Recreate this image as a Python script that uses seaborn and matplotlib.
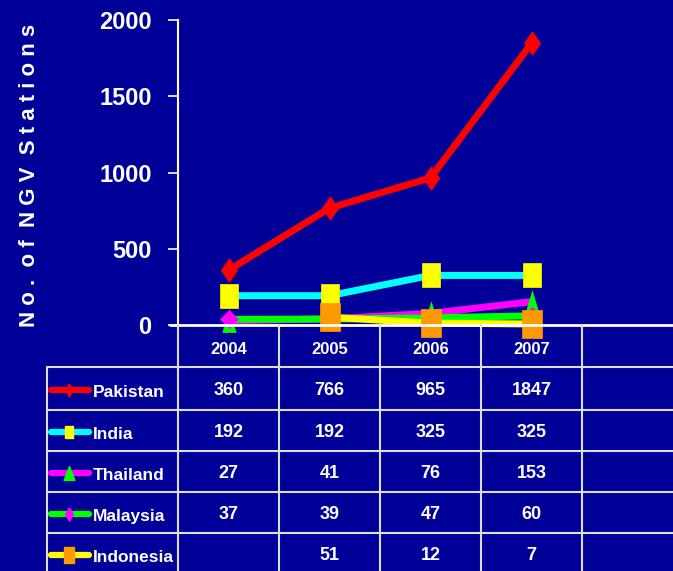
import numpy as np
import pandas as pd
import matplotlib
matplotlib.use("Agg")
import matplotlib.pyplot as plt
import matplotlib.transforms as mtransforms
from matplotlib.lines import Line2D
import seaborn as sns

years = ["2004", "2005", "2006", "2007"]
countries = ["Pakistan", "India", "Thailand", "Malaysia", "Indonesia"]
pakistan = [360, 766, 965, 1847]
india = [192, 192, 325, 325]
thailand = [27, 41, 76, 153]
malaysia = [37, 39, 47, 60]
indonesia = [np.nan, 51, 12, 7]
y_ticks = [0, 500, 1000, 1500, 2000]

bg = "#000099"
line_colors = ["#ff0000", "#00ffff", "#ff00ff", "#00ff00", "#ffff00"]
marker_colors = ["#ff0000", "#ffff00", "#00ff00", "#ff00ff", "#ff9900"]


def diamond(w):
    return [(0, 1), (w, 0), (0, -1), (-w, 0), (0, 1)]


def rect(w):
    return [(-w, -1), (w, -1), (w, 1), (-w, 1), (-w, -1)]


def tri(w):
    return [(0, 1), (w, -1), (-w, -1), (0, 1)]


# tall shapes like the original office chart markers
markers = [diamond(0.7), rect(0.74), tri(0.6), diamond(1.0), rect(0.7)]
msizes = [17, 17, 16, 13, 20]
leg_markers = [diamond(0.45), rect(0.66), tri(0.78), diamond(0.6), rect(0.65)]
leg_sizes = [9.5, 9, 10, 9.5, 12]

sns.set_style("dark", {"axes.facecolor": bg, "figure.facecolor": bg})
plt.rcParams["font.family"] = ["Liberation Sans", "DejaVu Sans"]
plt.rcParams["font.weight"] = "bold"

W, H = 673, 571
fig = plt.figure(figsize=(W / 100, H / 100), dpi=100)
fig.patch.set_facecolor(bg)


def fx(px):
    return px / W


def fy(py):
    return 1 - py / H


# plot area: categories 101 px wide starting at x=178, y 0->325 px, 2000->20 px
ax_left, ax_right, ax_top, ax_bot = 178, 673, 20, 325
ax = fig.add_axes([fx(ax_left), fy(ax_bot), fx(ax_right - ax_left), (ax_bot - ax_top) / H])
ax.set_facecolor(bg)
ax.set_xlim(-0.5, -0.5 + (ax_right - ax_left) / 101)
ax.set_ylim(0, 2000)

series = [pakistan, india, thailand, malaysia, indonesia]
data = pd.DataFrame({"year_idx": np.arange(len(years))})
for name, vals in zip(countries, series):
    data[name] = vals

for i, name in enumerate(countries):
    sns.lineplot(data=data, x="year_idx", y=name, ax=ax, color=line_colors[i],
                 linewidth=5, marker=markers[i], markersize=msizes[i],
                 markerfacecolor=marker_colors[i], markeredgecolor=marker_colors[i],
                 markeredgewidth=0.5, clip_on=False, zorder=3 + i)

ax.set_xlabel("")
ax.set_ylabel("")
ax.set_xticks([])
ax.set_yticks(y_ticks)
ax.set_yticklabels([str(t) for t in y_ticks], color="white", fontsize=17, fontweight="bold")
ax.tick_params(axis="y", colors="white", length=7, width=1.2, pad=12, direction="out", left=True)
ax.grid(False)
for s in ["top", "right", "bottom"]:
    ax.spines[s].set_visible(False)
ax.spines["left"].set_color("white")
ax.spines["left"].set_linewidth(1.5)

fig.text(fx(30), fy(175), "N o .  o f  N G V  S t a t i o n s", rotation=90, color="white",
         fontsize=16, fontweight="bold", ha="center", va="center")

# data table below the plot
lc = "#dddddd"
col_edges = [178, 279, 380, 481, 582, 683]
row_edges = [367, 410, 451, 492, 533, 574]
fig.add_artist(Line2D([fx(170), fx(673)], [fy(325), fy(325)], color="white", lw=2))
for cx in col_edges[:5]:
    fig.add_artist(Line2D([fx(cx), fx(cx)], [fy(325), fy(574)], color=lc, lw=1.5))
fig.add_artist(Line2D([fx(47), fx(47)], [fy(367), fy(574)], color=lc, lw=1.5))
for ry in row_edges[:5]:
    fig.add_artist(Line2D([fx(47), fx(673)], [fy(ry), fy(ry)], color=lc, lw=1.5))

trans = mtransforms.blended_transform_factory(ax.transData, fig.transFigure)
for j, yr in enumerate(years):
    fig.text(j, fy(349), yr, transform=trans, color="white", fontsize=12,
             fontweight="bold", ha="center", va="center")

for i, (name, vals) in enumerate(zip(countries, series)):
    yc = (row_edges[i] + row_edges[i + 1]) / 2
    fig.add_artist(Line2D([fx(51), fx(89)], [fy(yc + 1.5), fy(yc + 1.5)], color=line_colors[i],
                          lw=4.5, solid_capstyle="round"))
    fig.add_artist(Line2D([fx(69)], [fy(yc + 1.5)], marker=leg_markers[i], markersize=leg_sizes[i],
                          markerfacecolor=marker_colors[i], markeredgecolor=marker_colors[i],
                          linestyle="none"))
    fig.text(fx(93), fy(yc + 4), name, color="white", fontsize=12.5, fontweight="bold",
             ha="left", va="center")
    for j, v in enumerate(vals):
        if np.isnan(v):
            continue
        fig.text(j, fy(yc + 2), str(int(v)), transform=trans, color="white",
                 fontsize=13, fontweight="bold", ha="center", va="center")

fig.savefig("out.png", dpi=100, facecolor=bg)
